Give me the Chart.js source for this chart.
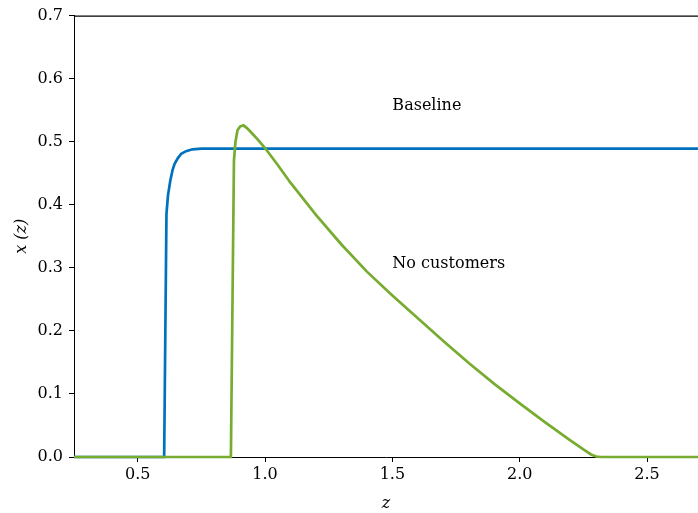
<!DOCTYPE html>
<html>
<head>
<meta charset="utf-8">
<script src="https://cdn.jsdelivr.net/npm/chart.js@4/dist/chart.umd.min.js"></script>
<style>
  html, body { margin: 0; padding: 0; background: #fff; }
  #wrap { width: 698px; height: 513px; position: relative; }
</style>
</head>
<body>
<div id="wrap"><canvas id="chart"></canvas></div>
<script>
// ---- data ----
const baselineZ = [0.25, 0.604, 0.613, 0.619, 0.628, 0.637, 0.645, 0.658, 0.671, 0.69, 0.715, 0.75, 1.0, 1.5, 2.0, 2.7];
const baselineX = [0, 0, 0.385, 0.415, 0.438, 0.455, 0.465, 0.474, 0.481, 0.485, 0.488, 0.489, 0.489, 0.489, 0.489, 0.489];

const noCustZ = [0.25, 0.866, 0.878, 0.884, 0.892, 0.902, 0.915, 0.928, 0.945, 0.97, 1.0, 1.05, 1.1, 1.2, 1.3, 1.4,
                 1.5, 1.6, 1.7, 1.8, 1.9, 2.0, 2.1, 2.2, 2.25, 2.28, 2.3, 2.32, 2.7];
const noCustX = [0, 0, 0.47, 0.50, 0.518, 0.524, 0.526, 0.522, 0.515, 0.504, 0.490, 0.463, 0.435, 0.384, 0.337, 0.294,
                 0.256, 0.220, 0.184, 0.149, 0.116, 0.085, 0.055, 0.026, 0.012, 0.004, 0.0008, 0, 0];

const xTicks = [0.5, 1.0, 1.5, 2.0, 2.5];
const yTicks = [0, 0.1, 0.2, 0.3, 0.4, 0.5, 0.6, 0.7];

// text labels inside the plot: [text, z, x]
const notes = [["Baseline", 1.5, 0.55], ["No customers", 1.5, 0.3]];

const FONT = "'DejaVu Serif', serif";

function toPoints(xs, ys) {
  return xs.map((v, i) => ({ x: v, y: ys[i] }));
}

// top frame line + text labels
const extras = {
  id: "extras",
  afterDraw(chart) {
    const { ctx, chartArea, scales } = chart;
    ctx.save();
    ctx.strokeStyle = "#000";
    ctx.lineWidth = 1.2;
    ctx.beginPath();
    ctx.moveTo(chartArea.left, chartArea.top + 0.5);
    ctx.lineTo(chartArea.right, chartArea.top + 0.5);
    ctx.stroke();

    ctx.fillStyle = "#000";
    ctx.font = "16px " + FONT;
    ctx.textAlign = "left";
    ctx.textBaseline = "alphabetic";
    notes.forEach(([t, zx, xv]) => {
      ctx.fillText(t, scales.x.getPixelForValue(zx), scales.y.getPixelForValue(xv));
    });
    ctx.restore();
  }
};

new Chart(document.getElementById("chart"), {
  type: "scatter",
  data: {
    datasets: [
      {
        label: "Baseline",
        data: toPoints(baselineZ, baselineX),
        showLine: true,
        borderColor: "#0072BD",
        borderWidth: 2.7,
        pointRadius: 0,
        tension: 0,
        clip: 4,
        order: 1
      },
      {
        label: "No customers",
        data: toPoints(noCustZ, noCustX),
        showLine: true,
        borderColor: "#77AC30",
        borderWidth: 2.7,
        pointRadius: 0,
        tension: 0,
        clip: 4,
        order: 0
      }
    ]
  },
  options: {
    responsive: true,
    maintainAspectRatio: false,
    animation: false,
    layout: { padding: { top: 14, left: 0, right: 0, bottom: 0 } },
    plugins: { legend: { display: false }, tooltip: { enabled: false } },
    scales: {
      x: {
        type: "linear",
        min: 0.25,
        max: 2.7,
        afterBuildTicks: (s) => { s.ticks = xTicks.map(v => ({ value: v })); },
        afterFit: (s) => { s.height = 56; },
        grid: { display: true, drawOnChartArea: false, drawTicks: true, tickLength: 5, color: "#000" },
        border: { display: true, color: "#000", width: 1 },
        ticks: {
          color: "#000",
          font: { family: FONT, size: 16 },
          padding: 3,
          maxRotation: 0,
          callback: (v) => Number(v).toFixed(1)
        },
        title: {
          display: true,
          text: "z",
          color: "#000",
          font: { family: FONT, size: 16, style: "italic" },
          padding: { top: 0, bottom: 0 }
        }
      },
      y: {
        type: "linear",
        min: 0,
        max: 0.7,
        afterBuildTicks: (s) => { s.ticks = yTicks.map(v => ({ value: v })); },
        afterFit: (s) => { s.width = 74; },
        grid: { display: true, drawOnChartArea: false, drawTicks: true, tickLength: 5, color: "#000" },
        border: { display: true, color: "#000", width: 1 },
        ticks: {
          color: "#000",
          font: { family: FONT, size: 16 },
          padding: 6,
          callback: (v) => Number(v).toFixed(1)
        },
        title: {
          display: true,
          text: "x (z)",
          color: "#000",
          font: { family: FONT, size: 16, style: "italic" },
          padding: { top: 12, bottom: 0 }
        }
      }
    }
  },
  plugins: [extras]
});
</script>
</body>
</html>
